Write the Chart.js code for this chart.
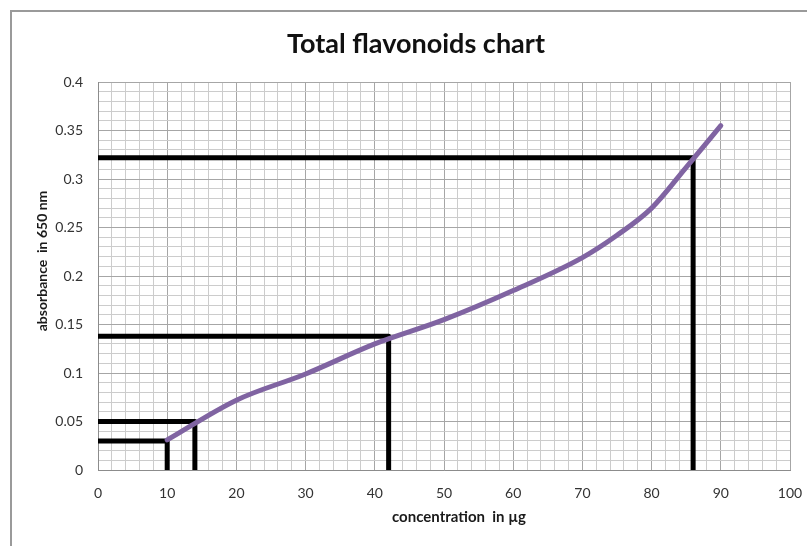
<!DOCTYPE html>
<html>
<head>
<meta charset="utf-8">
<script src="https://cdn.jsdelivr.net/npm/chart.js@4"></script>
<style>
    body { margin: 0; background: #fff; }
    #wrap { position: relative; width: 807px; height: 546px; }
    #frame {
        position: absolute; left: 10px; top: 10px; right: 0; bottom: 0;
        border-top: 2px solid #9a9a9a; border-left: 2px solid #9a9a9a;
        pointer-events: none;
    }
</style>
</head>
<body>
<div id="wrap">
    <canvas id="flavonoidChart" width="807" height="546"></canvas>
    <div id="frame"></div>
</div>
<script>
// Calibration curve
const concentration = [10, 20, 30, 40, 50, 60, 70, 75, 80, 85, 90];
const absorbance = [0.031, 0.072, 0.099, 0.13, 0.155, 0.185, 0.219, 0.242, 0.27, 0.312, 0.355];

// Black read-off lines: sample concentration and its absorbance
const sampleConc = [10, 14, 42, 86];
const sampleAbs = [0.03, 0.05, 0.138, 0.322];

const chartTitle = 'Total flavonoids chart';
const xTitle = 'concentration  in µg';
const yTitle = 'absorbance  in 650 nm';

const FONT = 'Lato, "Open Sans", sans-serif';

document.addEventListener('DOMContentLoaded', () => {
    const ctx = document.getElementById('flavonoidChart').getContext('2d');

    // one elbow line per sample: (0, abs) -> (conc, abs) -> (conc, 0)
    const guideSets = sampleConc.map((c, i) => ({
        label: 'sample ' + (i + 1),
        data: [{ x: 0, y: sampleAbs[i] }, { x: c, y: sampleAbs[i] }, { x: c, y: 0 }],
        borderColor: '#000',
        borderWidth: 5,
        borderCapStyle: 'round',
        borderJoinStyle: 'round',
        pointRadius: 0,
        tension: 0,
        fill: false,
        order: 2
    }));

    const curveSet = {
        label: 'standard',
        data: concentration.map((c, i) => ({ x: c, y: absorbance[i] })),
        borderColor: '#8064a2',
        borderWidth: 5,
        borderCapStyle: 'round',
        pointRadius: 0,
        cubicInterpolationMode: 'monotone',
        fill: false,
        order: 1
    };

    // axis titles drawn by hand so they can sit where the picture has them
    const axisTitles = {
        id: 'axisTitles',
        afterDraw(chart) {
            const c = chart.ctx;
            c.save();
            c.fillStyle = '#1a1a1a';
            c.textAlign = 'center';
            c.textBaseline = 'middle';
            c.font = 'bold 15px ' + FONT;
            c.fillText(xTitle, 459, 517);
            c.font = 'bold 14px ' + FONT;
            c.translate(42, 261);
            c.rotate(-Math.PI / 2);
            c.fillText(yTitle, 0, 0);
            c.restore();
        }
    };

    new Chart(ctx, {
        type: 'line',
        data: { datasets: [curveSet, ...guideSets] },
        options: {
            responsive: false,
            animation: false,
            layout: { padding: { left: 31, right: 6, top: 0, bottom: 0 } },
            plugins: {
                legend: { display: false },
                tooltip: { enabled: false },
                title: {
                    display: true,
                    text: chartTitle,
                    color: '#111',
                    font: { family: FONT, size: 27, weight: 'bold', lineHeight: 1.2 },
                    padding: { top: 27.8, bottom: 21.8 }
                }
            },
            scales: {
                x: {
                    type: 'linear',
                    min: 0,
                    max: 100,
                    afterFit: (scale) => {
                        scale.height = 76;
                        scale.paddingRight = 17;
                    },
                    ticks: {
                        stepSize: 2,
                        autoSkip: false,
                        maxRotation: 0,
                        padding: 15,
                        color: '#333',
                        font: { family: FONT, size: 14 },
                        callback: (v) => (Math.round(v) % 10 === 0 ? String(Math.round(v)) : '')
                    },
                    grid: {
                        drawTicks: false,
                        color: (c) => (Math.round(c.tick.value) % 10 === 0 ? '#a6a6a6' : '#cccccc')
                    },
                    border: { color: '#8c8c8c' }
                },
                y: {
                    min: 0,
                    max: 0.4,
                    afterFit: (scale) => { scale.width = 67; },
                    ticks: {
                        stepSize: 0.01,
                        autoSkip: false,
                        padding: 15,
                        color: '#333',
                        font: { family: FONT, size: 14 },
                        callback: (v) => {
                            const h = Math.round(v * 100);
                            return h % 5 === 0 ? String(h / 100) : '';
                        }
                    },
                    grid: {
                        drawTicks: false,
                        color: (c) => (Math.round(c.tick.value * 100) % 5 === 0 ? '#a6a6a6' : '#cccccc')
                    },
                    border: { color: '#8c8c8c' }
                }
            }
        },
        plugins: [axisTitles]
    });
});
</script>
</body>
</html>
